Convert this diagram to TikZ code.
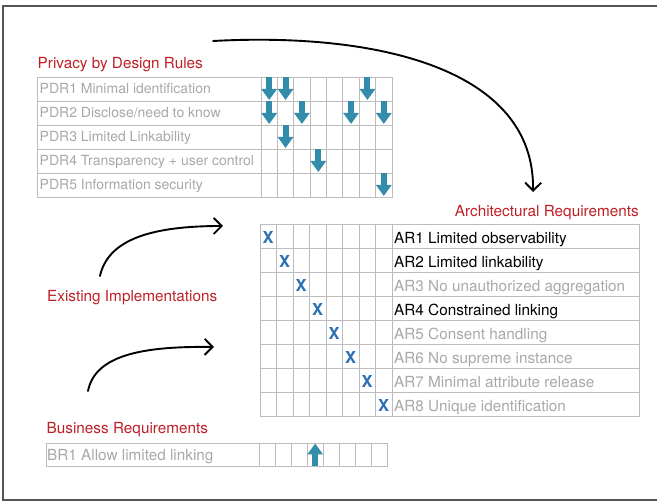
\documentclass[tikz,border=0pt]{standalone}
\usepackage{fontspec}
\setmainfont{TeX Gyre Heros}
\usetikzlibrary{arrows.meta}

\definecolor{rulered}{RGB}{190,32,38}
\definecolor{labelgray}{RGB}{168,168,168}
\definecolor{gridgray}{RGB}{188,188,188}
\definecolor{flowteal}{RGB}{50,140,170}
\definecolor{markblue}{RGB}{42,112,178}
\definecolor{framegray}{RGB}{85,85,85}

\begin{document}
\begin{tikzpicture}[
		x=1pt, y=-1pt,
		font=\fontsize{15.3}{18}\selectfont,
		heading/.style={text=rulered, inner sep=0pt, anchor=base west},
		reqlabel/.style={text=labelgray, inner sep=0pt, anchor=base west},
		gridline/.style={draw=gridgray, line width=0.9pt},
		flow/.style={draw=flowteal, line width=6pt, -{Triangle[length=11pt,width=15pt]}},
		xmark/.style={text=markblue, font=\fontsize{16.5}{19}\selectfont\bfseries, inner sep=0pt},
		sketch/.style={draw=black, line width=1.9pt, line cap=round, -{Straight Barb[length=8pt,width=16pt]}}
	]
	\useasboundingbox (0,0) rectangle (657,502);
	\draw[framegray, line width=1.2pt] (657,6) -- (3,6) -- (3,500) -- (657,500);

	% privacy by design rules
	\node[heading] (pdrtitle) at (37.5,69) {Privacy by Design Rules};
	\draw[gridline] (37,77) rectangle (392,197);
	\foreach \r in {1,...,4}
		\draw[gridline] (37,{77+24*\r}) -- (392,{77+24*\r});
	\foreach \c in {0,...,7}
		\draw[gridline] ({261+16.375*\c},77) -- ({261+16.375*\c},197);
	\foreach \r/\txt in {1/{Minimal identification}, 2/{Disclose/need to know}, 3/{Limited Linkability},
			4/{Transparency + user control}, 5/{Information security}}
		\node[reqlabel, font=\fontsize{14}{17}\selectfont] (pdr\r) at (39.5,{77+24*(\r-1)+17}) {PDR\r{} \txt};
	\foreach \r/\c in {1/1,1/2,1/7,2/1,2/3,2/6,2/8,3/2,4/4,5/8}
		\draw[flow] ({261+16.375*(\c-0.5)},{77+24*(\r-1)}) -- ++(0,23);

	% architectural requirements
	\node[heading, anchor=base east] (artitle) at (639,216.5) {Architectural Requirements};
	\draw[gridline] (260,224) rectangle (639,416);
	\foreach \r in {1,...,7}
		\draw[gridline] (260,{224+24*\r}) -- (639,{224+24*\r});
	\foreach \c in {1,...,8}
		\draw[gridline] ({260+16.5*\c},224) -- ({260+16.5*\c},416);
	\foreach \i/\txt/\col in {1/{Limited observability}/black, 2/{Limited linkability}/black,
			3/{No unauthorized aggregation}/labelgray, 4/{Constrained linking}/black,
			5/{Consent handling}/labelgray, 6/{No supreme instance}/labelgray,
			7/{Minimal attribute release}/labelgray, 8/{Unique identification}/labelgray}
	{
		\node[reqlabel, text=\col] (ar\i) at (394,{224+24*(\i-1)+20}) {AR\i{} \txt};
		\node[xmark] (x\i) at ({260+16.5*(\i-0.5)},{224+24*(\i-0.5)+1.6}) {X};
	}

	% business requirements
	\node[heading] (brtitle) at (46.5,434) {Business Requirements};
	\draw[gridline] (46,443) rectangle (387.5,466.5);
	\foreach \c in {0,...,7}
		\draw[gridline] ({259+16.06*\c},443) -- ({259+16.06*\c},466.5);
	\node[reqlabel] (br1) at (47,461) {BR1 Allow limited linking};
	\draw[flow] ({259+16.06*3.5},466.5) -- ++(0,-23);

	\node[heading] (existing) at (47,301.5) {Existing Implementations};

	% hand drawn flows
	\coordinate (pdrout) at (213,41);
	\coordinate (arin) at (533,192);
	\coordinate (implout) at (100,276);
	\coordinate (implin) at (223,226);
	\coordinate (busout) at (88,391);
	\coordinate (busin) at (214,347);
	\draw[sketch] (pdrout) .. controls (380,32) and (535,70) .. (arin);
	\draw[sketch] (implout) .. controls (108,240) and (150,226) .. (implin);
	\draw[sketch] (busout) .. controls (95,356) and (140,346) .. (busin);
\end{tikzpicture}
\end{document}
